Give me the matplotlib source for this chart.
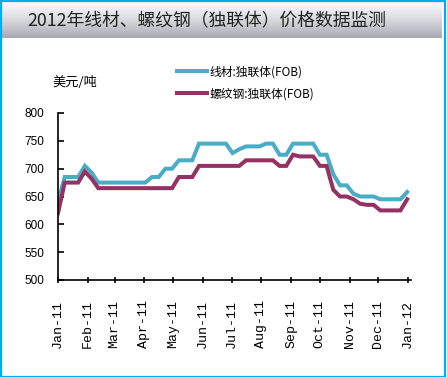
import numpy as np
import pandas as pd
import matplotlib
matplotlib.use('Agg')
import matplotlib.pyplot as plt
import matplotlib.dates as mdates
from matplotlib.patches import Rectangle

# weekly prices, USD/t (FOB, CIS)
dates = pd.date_range("2011-01-01", periods=53, freq="7D")
wire_rod = [640, 685, 685, 685, 705, 693, 675, 675, 675, 675,
            675, 675, 675, 675, 685, 685, 700, 700, 715, 715,
            715, 745, 745, 745, 745, 745, 728, 735, 740, 740,
            740, 745, 745, 725, 725, 745, 745, 745, 745, 725,
            725, 690, 670, 670, 655, 650, 650, 650, 645, 645,
            645, 645, 658]
rebar = [620, 675, 675, 675, 695, 682, 665, 665, 665, 665,
         665, 665, 665, 665, 665, 665, 665, 665, 685, 685,
         685, 705, 705, 705, 705, 705, 705, 705, 715, 715,
         715, 715, 715, 705, 705, 725, 722, 722, 722, 705,
         705, 662, 650, 650, 645, 637, 635, 635, 625, 625,
         625, 625, 645]
series_labels = ["线材:独联体(FOB)", "螺纹钢:独联体(FOB)"]
title = "2012年线材、螺纹钢（独联体）价格数据监测"
unit = "美元/吨"
yticks = [500, 550, 600, 650, 700, 750, 800]
month_ticks = pd.date_range("2011-01-01", "2012-01-01", freq="MS")

cjk = ['Noto Sans CJK SC', 'DejaVu Sans']

W, H = 447, 377
fig = plt.figure(figsize=(W / 100, H / 100), dpi=100)
fig.patch.set_facecolor("white")

# title bar with grey gradient
bar = fig.add_axes([2 / W, 1 - 38 / H, 440 / W, 36 / H])
grad = np.linspace(0, 1, 64).reshape(-1, 1)
top = np.array([0.97, 0.97, 0.98])
bot = np.array([0.66, 0.66, 0.70])
img = top + (bot - top) * grad[..., None] ** 1.3
bar.imshow(img, aspect="auto", extent=[0, 1, 0, 1])
bar.axis("off")
fig.text(27 / W, 1 - 21 / H, title, fontsize=12.8, family=cjk,
         color="#222222", va="center", ha="left")

# outer cyan border
fig.patches.append(Rectangle((0.5 / W, 0.5 / H), 444.5 / W, 376 / H,
                             transform=fig.transFigure, fill=False,
                             edgecolor="#00AEEF", linewidth=1.6))

ax = fig.add_axes([58 / W, 97 / H, 353 / W, 167 / H])
ax.plot(dates, wire_rod, color="#4BACC6", linewidth=2.9,
        label=series_labels[0], solid_joinstyle="miter")
ax.plot(dates, rebar, color="#953264", linewidth=2.9,
        label=series_labels[1], solid_joinstyle="miter")

ax.set_ylim(500, 800)
ax.set_yticks(yticks)
ax.set_xlim(pd.Timestamp("2011-01-01"), pd.Timestamp("2012-01-04"))
ax.set_xticks(month_ticks)
ax.xaxis.set_major_formatter(mdates.DateFormatter("%b-%y"))

for s in ["top", "right"]:
    ax.spines[s].set_visible(False)
for s in ["left", "bottom"]:
    ax.spines[s].set_linewidth(1.2)
    ax.spines[s].set_color("black")

ax.tick_params(axis="y", direction="in", length=4, width=1.2, pad=10,
               labelsize=8.5)
ax.tick_params(axis="x", direction="inout", length=5, width=1.2, pad=12,
               labelsize=9.5)
for lab in ax.get_yticklabels():
    lab.set_family("Liberation Sans")
for lab in ax.get_xticklabels():
    lab.set_family("Liberation Mono")
    lab.set_rotation(90)

fig.text(52 / W, 1 - 83 / H, unit, fontsize=9.5, family=cjk,
         va="center", ha="left")

leg = ax.legend(loc="upper left", bbox_to_anchor=(108 / 353, 1 + 58 / 167),
                frameon=False, handlelength=2.6, handletextpad=0.15,
                labelspacing=0.75, prop={"family": cjk, "size": 8.5})

fig.savefig("out.png", dpi=100)
